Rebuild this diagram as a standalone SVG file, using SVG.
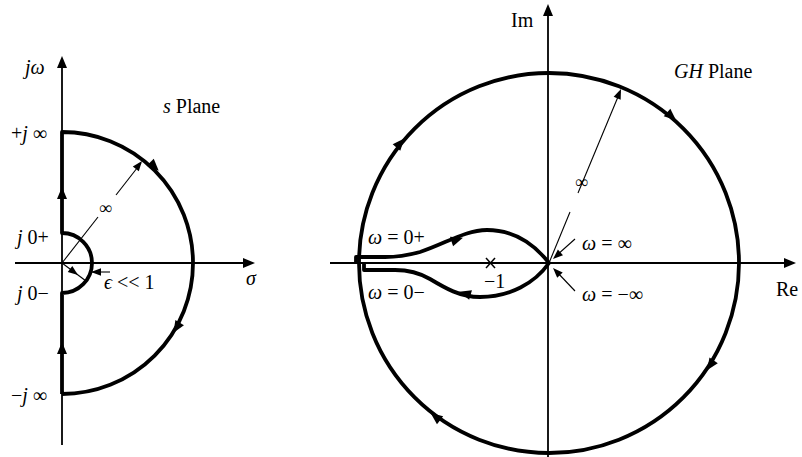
<svg xmlns="http://www.w3.org/2000/svg" xmlns:xlink="http://www.w3.org/1999/xlink" width="802" height="457" viewBox="0 0 802 457">
<style>
.axis{stroke:#000;stroke-width:1.8;fill:none}
.thin{stroke:#000;stroke-width:1.1;fill:none}
.thick{stroke:#000;stroke-width:3.8;fill:none;stroke-linejoin:round}
text{font-family:"Liberation Serif","Times New Roman",serif;font-size:20px;fill:#000}
.it{font-style:italic}
</style>
<defs>
<path id="ah" d="M1,0 L-11,-5 L-11,5 Z" fill="#000"/>
<path id="ahs" d="M0,0 L-10,-3.8 L-10,3.8 Z" fill="#000"/>
</defs>
<rect width="802" height="457" fill="#fff"/>

<g id="s-plane">
  <g id="s-axes">
    <line class="axis" x1="62" y1="445" x2="62" y2="62"/>
    <use href="#ah" transform="translate(62,57) rotate(-90)"/>
    <line class="axis" x1="15" y1="263" x2="248" y2="263"/>
    <use href="#ah" transform="translate(254,263)"/>
  </g>
  <g id="s-contour">
    <path class="thick" d="M62,394 L62,293 A30,30 0 0 0 62,233 L62,132 A131,131 0 0 1 62,394"/>
    <use href="#ah" transform="translate(62,188) rotate(-90)"/>
    <use href="#ah" transform="translate(62,343) rotate(-90)"/>
    <use href="#ah" transform="translate(158,170) rotate(45)"/>
    <use href="#ah" transform="translate(174,332) rotate(121)"/>
  </g>
  <g id="s-radius">
    <line class="thin" x1="62" y1="263" x2="98" y2="217"/>
    <line class="thin" x1="116" y1="195" x2="141" y2="163"/>
    <use href="#ahs" transform="translate(142,161) rotate(-51.6)"/>
    <text x="99" y="214" style="font-size:18px">∞</text>
    <line class="thin" x1="62" y1="263" x2="86" y2="281"/>
    <use href="#ahs" transform="translate(78,275) rotate(37)"/>
    <line class="thin" x1="91" y1="272" x2="110" y2="272"/>
    <use href="#ahs" transform="translate(91,272) rotate(180)"/>
  </g>
  <g id="s-labels">
    <text x="25" y="74" class="it">jω</text>
    <text x="163" y="113"><tspan class="it">s</tspan> Plane</text>
    <text x="11" y="140">+<tspan class="it">j</tspan> ∞</text>
    <text x="17" y="244"><tspan class="it">j</tspan> 0+</text>
    <text x="17" y="300"><tspan class="it">j</tspan> 0−</text>
    <text x="11" y="402">−<tspan class="it">j</tspan> ∞</text>
    <text x="104" y="289"><tspan class="it">ϵ</tspan> &lt;&lt; 1</text>
    <text x="246" y="285" class="it">σ</text>
  </g>
</g>

<g id="gh-plane">
  <g id="gh-axes">
    <line class="axis" x1="548" y1="457" x2="548" y2="10"/>
    <use href="#ah" transform="translate(548,5) rotate(-90)"/>
    <line class="axis" x1="330" y1="263" x2="790" y2="263"/>
    <use href="#ah" transform="translate(795,263)"/>
  </g>
  <g id="gh-circle">
    <circle class="thick" cx="549" cy="263" r="190"/>
    <use href="#ah" transform="translate(403.6,139.2) rotate(-49.6)"/>
    <use href="#ah" transform="translate(675.3,119.7) rotate(41.4)"/>
    <use href="#ah" transform="translate(707.5,369.5) rotate(123.9)"/>
    <use href="#ah" transform="translate(431.4,413.5) rotate(-142)"/>
  </g>
  <g id="gh-locus">
    <path class="thick" d="M549,263 C535,245 515,230 487,230 C465,230 445,244 420,252 C405,256 395,257 385,257 L356,257 L356,264"/>
    <path class="thick" d="M549,263 C535,283 510,297 480,297 C460,297 445,288 430,279 C418,272 408,270 395,270 L364,270 L364,264"/>
    <use href="#ah" transform="translate(462,238) rotate(-18)"/>
    <use href="#ah" transform="translate(460,292) rotate(-164)"/>
    <line class="thin" x1="486" y1="258" x2="495" y2="268" style="stroke-width:1.5"/>
    <line class="thin" x1="495" y1="258" x2="486" y2="268" style="stroke-width:1.5"/>
  </g>
  <g id="gh-pointers">
    <line class="thin" x1="549" y1="263" x2="570" y2="212"/>
    <line class="thin" x1="578" y1="193" x2="620" y2="92"/>
    <use href="#ahs" transform="translate(621,89) rotate(-67.4)"/>
    <text x="575" y="188" style="font-size:18px">∞</text>
    <line class="thin" x1="575" y1="239" x2="556" y2="256"/>
    <use href="#ahs" transform="translate(553,259) rotate(138)"/>
    <line class="thin" x1="575" y1="291" x2="556" y2="271"/>
    <use href="#ahs" transform="translate(553,268) rotate(-134)"/>
  </g>
  <g id="gh-labels">
    <text x="511" y="27">Im</text>
    <text x="674" y="78"><tspan class="it">GH</tspan> Plane</text>
    <text x="776" y="296">Re</text>
    <text x="368" y="244"><tspan class="it">ω</tspan> = 0+</text>
    <text x="368" y="299"><tspan class="it">ω</tspan> = 0−</text>
    <text x="582" y="250"><tspan class="it">ω</tspan> = ∞</text>
    <text x="582" y="301"><tspan class="it">ω</tspan> = −∞</text>
    <text x="484" y="288">−1</text>
  </g>
</g>
</svg>
